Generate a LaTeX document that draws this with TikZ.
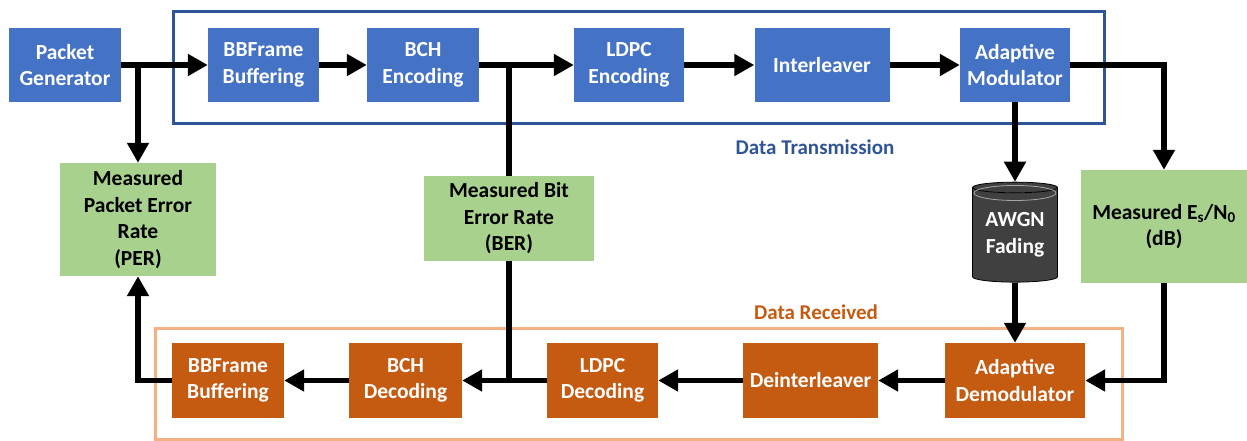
\documentclass[tikz,border=0pt]{standalone}
\usepackage{fontspec}
\setmainfont{Carlito}
\usetikzlibrary{arrows.meta,shapes.geometric}
\definecolor{boxblue}{HTML}{4472C4}
\definecolor{frameblue}{HTML}{2F5597}
\definecolor{boxgreen}{HTML}{A9D18E}
\definecolor{boxorange}{HTML}{C55A11}
\definecolor{frameorange}{HTML}{F4B183}
\definecolor{cylgray}{HTML}{404040}
\tikzset{
  txt/.style={font=\fontsize{21.5}{26.5}\selectfont\bfseries, align=center, inner sep=0pt},
  bluebox/.style={txt, fill=boxblue, text=white, minimum height=74pt},
  orangebox/.style={txt, fill=boxorange, text=white, minimum height=75pt},
  greenbox/.style={txt, fill=boxgreen, text=black},
  arr/.style={line width=5.5pt, -{Triangle[length=20pt,width=21pt]}},
  ln/.style={line width=5.5pt},
  frameb/.style={draw=frameblue, line width=3pt},
  frameo/.style={draw=frameorange, line width=3pt},
  lbl/.style={font=\fontsize{21}{24}\selectfont\bfseries, inner sep=0pt}
}
\begin{document}
\begin{tikzpicture}[x=1pt,y=-1pt]
\useasboundingbox (0,0) rectangle (1247,441);
% frames
\draw[frameb] (173,12) rectangle (1104,124);
\draw[frameo] (155,328) rectangle (1122,439);
\node[lbl, text=frameblue] (dt) at (815,147) {Data Transmission};
\node[lbl, text=boxorange] (dr) at (816,312) {Data Received};
% top row
\node[bluebox, minimum width=112pt] (pg) at (65,65) {Packet\\Generator};
\node[bluebox, minimum width=111pt] (bbf) at (263.5,65) {BBFrame\\Buffering};
\node[bluebox, minimum width=112pt] (bche) at (423,65) {BCH\\Encoding};
\node[bluebox, minimum width=110pt] (ldpce) at (629,65) {LDPC\\Encoding};
\node[bluebox, minimum width=135pt] (intl) at (822,65) {Interleaver};
\node[bluebox, minimum width=110pt] (amod) at (1015,65) {Adaptive\\Modulator};
% green boxes
\node[greenbox, minimum width=156pt, minimum height=113pt] (per) at (138,219.5) {Measured\\Packet Error\\Rate\\(PER)};
\node[greenbox, minimum width=170pt, minimum height=85pt] (ber) at (509,218.5) {Measured Bit\\Error Rate\\(BER)};
\node[greenbox, minimum width=166pt, minimum height=113pt] (esn) at (1164,226.5) {Measured E\textsubscript{s}/N\textsubscript{0}\\(dB)};
% cylinder
\node[cylinder, shape border rotate=90, aspect=0.18, draw=black, line width=0.8pt,
      cylinder uses custom fill, cylinder body fill=cylgray, cylinder end fill=cylgray,
      minimum width=85pt, minimum height=100pt, txt, text=white] (awgn) at (1015,235) {AWGN\\Fading};
\draw[gray!70, line width=0.8pt] (1015,193) ellipse [x radius=41pt, y radius=7.5pt];
% bottom row
\node[orangebox, minimum width=112pt] (bbfd) at (228,380.5) {BBFrame\\Buffering};
\node[orangebox, minimum width=113pt] (bchd) at (405.5,380.5) {BCH\\Decoding};
\node[orangebox, minimum width=111pt] (ldpcd) at (602.5,380.5) {LDPC\\Decoding};
\node[orangebox, minimum width=135pt] (deint) at (810.5,380.5) {Deinterleaver};
\node[orangebox, minimum width=140pt] (ademod) at (1015,380.5) {Adaptive\\Demodulator};
% junctions
\coordinate (j1) at (138,65);
\coordinate (j2) at (509,65);
% top arrows
\draw[arr] (pg.east) -- (bbf.west);
\draw[arr] (bbf.east) -- (bche.west);
\draw[arr] (bche.east) -- (ldpce.west);
\draw[arr] (ldpce.east) -- (intl.west);
\draw[arr] (intl.east) -- (amod.west);
\draw[arr] (j1) -- (per.north);
\draw[ln] (j2) -- (ber.north);
\draw[arr] (amod.east) -| (esn.north);
\draw[arr] (amod.south) -- (amod.south |- awgn.north);
\draw[arr] (awgn.south) -- (ademod.north);
\draw[arr] (esn.south) |- (ademod.east);
% bottom arrows
\draw[arr] (ademod.west) -- (deint.east);
\draw[arr] (deint.west) -- (ldpcd.east);
\draw[arr] (ldpcd.west) -- (bchd.east);
\draw[arr] (bchd.west) -- (bbfd.east);
\draw[ln] (ber.south) -- (ber.south |- ldpcd.west);
\draw[arr] (bbfd.west) -| (per.south);
\end{tikzpicture}
\end{document}
